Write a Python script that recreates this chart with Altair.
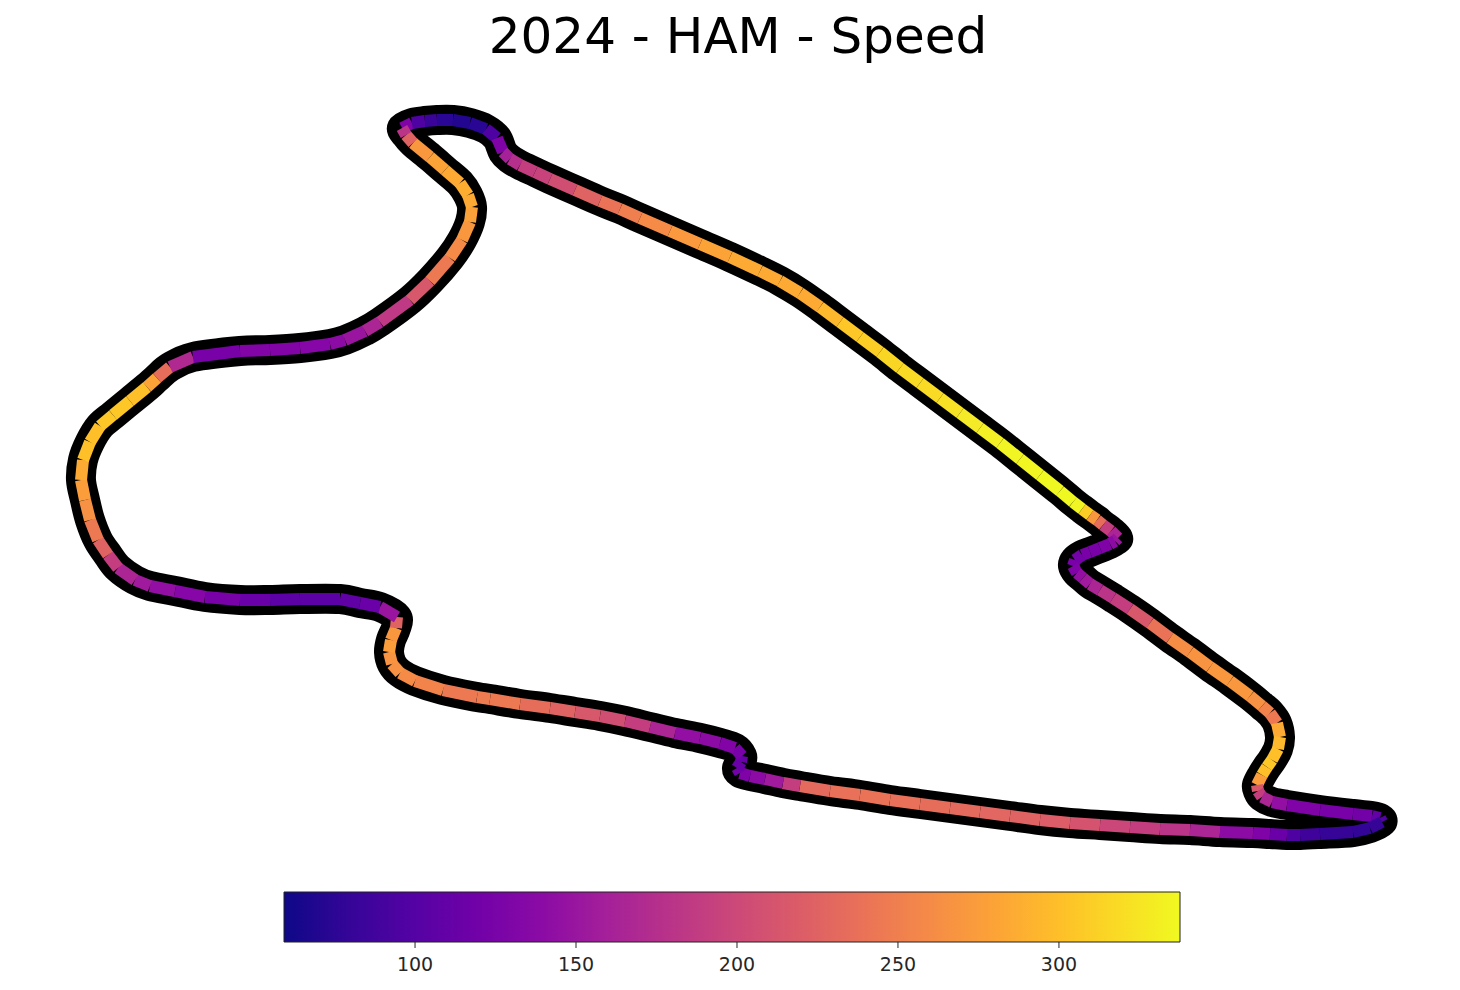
import altair as alt
import pandas as pd

track_x = [402,412,425,437,453,470,486,497,503,510,520,
           535,550,575,600,620,640,670,700,730,760,780,
           800,820,840,860,880,900,920,940,960,980,1000,1020,1040,
           1060,1073,1082,1090,1097,1103,1111,1118,1115,1110,1100,
           1090,1082,1075,1073,1077,1083,1090,1100,1113,1130,1150,
           1170,1190,1210,1230,1250,1262,1270,1277,1280,1278,1272,
           1267,1262,1257,1258,1262,1272,1287,1320,1353,1372,1380,
           1382,1370,1353,1320,1300,1287,1270,1253,1220,1190,1160,
           1130,1100,1070,1040,1010,980,950,920,890,860,830,
           800,783,765,750,740,737,741,742,735,720,700,
           675,650,625,600,575,550,520,490,477,443,415,
           400,392,389,391,396,397,380,360,340,300,270,
           240,205,175,150,135,118,108,98,90,85,81,
           83,90,100,113,130,147,157,170,193,240,270,
           300,330,345,365,380,410,430,450,462,470,472,
           468,460,445,430,413,406]
track_y = [128,123,121,120,120,123,129,138,152,159,165,
           172,179,190,201,209,218,231,244,257,271,281,
           293,307,322,337,352,368,383,398,413,428,443,459,475,
           491,502,509,515,520,525,531,538,541,544,548,
           552,555,560,566,573,578,584,590,598,609,623,
           638,652,667,681,696,706,713,723,737,749,760,
           767,775,785,791,797,802,805,810,814,816,818,
           822,828,832,834,835,835,834,833,832,830,829,
           827,825,823,820,816,812,808,804,800,795,791,
           786,783,779,776,773,768,762,756,748,743,738,
           733,727,721,716,712,708,704,699,697,690,681,
           673,664,652,640,628,617,607,603,599,599,600,
           600,597,591,586,580,568,555,540,520,500,480,
           460,442,426,415,401,387,378,367,357,351,350,
           348,344,340,331,322,300,281,258,240,222,207,
           195,183,170,157,143,135]
speed = [130,95,82,72,68,72,95,130,160,175,190,
         195,205,225,240,250,260,272,280,285,285,285,
         285,295,305,310,315,318,318,323,328,332,335,336,337,
         337,335,310,270,235,190,165,150,140,130,125,
         125,122,125,130,145,155,165,180,190,215,240,
         262,268,270,270,265,255,245,285,295,300,305,
         300,275,215,190,165,145,130,125,120,110,100,
         80,78,80,85,95,115,130,140,165,180,190,
         198,210,220,225,228,232,235,238,240,238,232,
         190,155,140,130,120,115,115,125,132,140,145,
         165,190,205,215,225,235,245,248,245,255,260,
         265,268,275,270,225,150,115,108,105,105,115,
         125,135,145,155,165,190,225,245,265,275,285,
         300,300,305,305,300,280,235,170,125,132,132,
         135,140,150,165,185,215,245,260,270,278,285,
         288,285,280,270,225,180]
tick_values = [100, 150, 200, 250, 300]
speed_domain = [59.3, 337.6]

df = pd.DataFrame({"x": track_x, "y": track_y, "speed": speed, "order": range(len(speed))})
seg = df.copy()
seg["x2"] = seg["x"].shift(-1).fillna(seg["x"].iloc[0])
seg["y2"] = seg["y"].shift(-1).fillna(seg["y"].iloc[0])
ticks = pd.DataFrame({"v": tick_values})

xs = alt.Scale(domain=[8, 1452])
ys = alt.Scale(domain=[870, 70])

outline = alt.Chart(df).mark_line(color="black", strokeWidth=30, interpolate="cardinal-closed",
                                  strokeJoin="round", strokeCap="round").encode(
    x=alt.X("x:Q", scale=xs, axis=None),
    y=alt.Y("y:Q", scale=ys, axis=None),
    order="order:Q",
)
segments = alt.Chart(seg).mark_rule(strokeWidth=12, strokeCap="butt").encode(
    x=alt.X("x:Q", scale=xs, axis=None),
    y=alt.Y("y:Q", scale=ys, axis=None),
    x2="x2:Q",
    y2="y2:Q",
    color=alt.Color("speed:Q",
                    scale=alt.Scale(scheme="plasma", domain=speed_domain),
                    legend=alt.Legend(orient="none", legendX=276, legendY=822, direction="horizontal",
                                      title=None, gradientLength=896, gradientThickness=50,
                                      gradientStrokeColor="#222222", gradientStrokeWidth=1,
                                      values=tick_values, labelFont="DejaVu Sans", labelFontSize=19,
                                      labelColor="#262626", labelOffset=14)),
)
tick_marks = alt.Chart(ticks).mark_rule(color="#262626", strokeWidth=1).encode(
    x=alt.X("v:Q", scale=alt.Scale(domain=speed_domain, range=[276, 1172]), axis=None),
    y=alt.value(872),
    y2=alt.value(878),
)

chart = alt.layer(outline, segments, tick_marks).resolve_scale(x="independent").properties(
    width=1444, height=800,
    padding={"left": 0, "top": 62, "right": 0, "bottom": 110},
    autosize=alt.AutoSizeParams(type="none"),
    title=alt.TitleParams("2024 - HAM - Speed", font="DejaVu Sans", fontSize=50, fontWeight="normal",
                          color="black", anchor="middle", dx=8, offset=7),
).configure_view(stroke=None)

chart.save("out.html", embed_options={"renderer": "svg", "actions": False})
